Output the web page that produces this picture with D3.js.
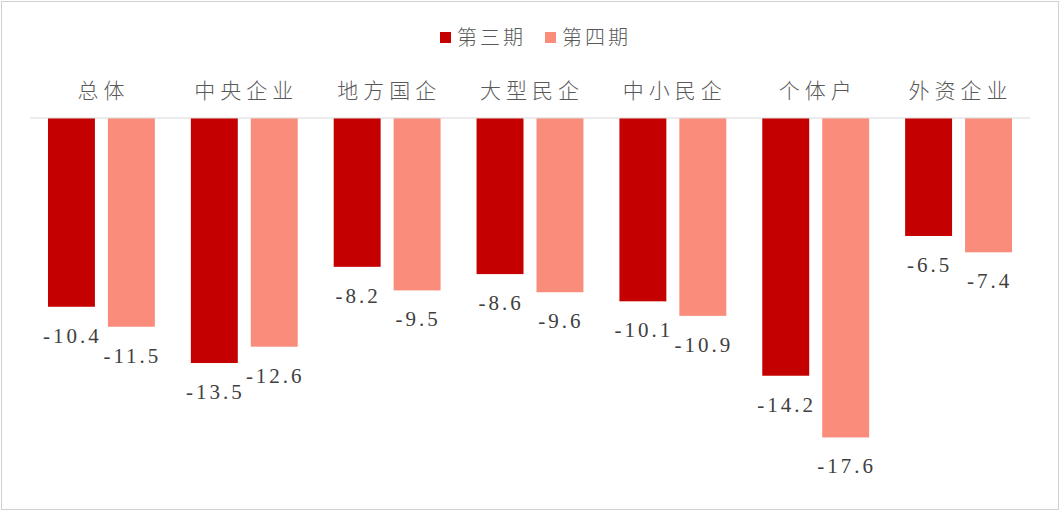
<!DOCTYPE html>
<html><head><meta charset="utf-8">
<script src="https://cdn.jsdelivr.net/npm/d3@7"></script>
<style>body{margin:0;background:#fff}svg{display:block}</style>
</head><body>
<svg id="c" width="1062" height="512"></svg>
<script>
const categories = ["总体","中央企业","地方国企","大型民企","中小民企","个体户","外资企业"];
const seriesNames = ["第三期","第四期"];
const period3 = [-10.4,-13.5,-8.2,-8.6,-10.1,-14.2,-6.5];
const period4 = [-11.5,-12.6,-9.5,-9.6,-10.9,-17.6,-7.4];
const colors = ["#c40000","#fa8c7b"];

const svg = d3.select("#c");
svg.append("rect").attr("x",1.5).attr("y",1.5).attr("width",1057).attr("height",508)
  .attr("fill","#fff").attr("stroke","#d0d0d0").attr("stroke-width",1);

const x0 = d3.scaleBand().domain(categories).range([30,1030]).paddingInner(0).paddingOuter(0);
const x1 = d3.scaleBand().domain(seriesNames).range([0,x0.bandwidth()]).paddingInner(0.217).paddingOuter(0.3);
const y = d3.scaleLinear().domain([0,-20]).range([118,481]);

const data = categories.map((c,i)=>({cat:c, vals:[period3[i],period4[i]]}));

// bars
const g = svg.append("g");
data.forEach(d=>{
  d.vals.forEach((v,j)=>{
    const bx = x0(d.cat)+x1(seriesNames[j]);
    g.append("rect").attr("x",bx).attr("y",y(0)).attr("width",x1.bandwidth())
      .attr("height",y(v)-y(0)).attr("fill",colors[j]);
    g.append("text").attr("x",bx+x1.bandwidth()/2+1).attr("y",y(v)+36)
      .attr("text-anchor","middle").attr("font-family","Liberation Serif, DejaVu Serif, serif")
      .attr("font-size",21).attr("letter-spacing","3px").attr("fill","#404040").text(v.toFixed(1));
  });
});

// axis line
svg.append("line").attr("x1",30).attr("x2",1030).attr("y1",y(0)).attr("y2",y(0))
  .attr("stroke","#d9d9d9").attr("stroke-width",1);

// category labels
svg.append("g").selectAll("text").data(categories).join("text")
  .attr("x",d=>x0(d)+x0.bandwidth()/2+2).attr("y",98)
  .attr("text-anchor","middle").attr("font-family","Noto Sans CJK SC, sans-serif")
  .attr("font-weight",300).attr("font-size",21).attr("letter-spacing","5px")
  .attr("fill","#595959").text(d=>d);

// legend
const lg = svg.append("g");
const legX = [440,545];
seriesNames.forEach((s,j)=>{
  lg.append("rect").attr("x",legX[j]).attr("y",32).attr("width",11).attr("height",11).attr("fill",colors[j]);
  lg.append("text").attr("x",legX[j]+17).attr("y",45).attr("font-family","Noto Sans CJK SC, sans-serif")
    .attr("font-weight",300).attr("font-size",20).attr("letter-spacing","3px").attr("fill","#595959").text(s);
});
</script>
</body></html>
